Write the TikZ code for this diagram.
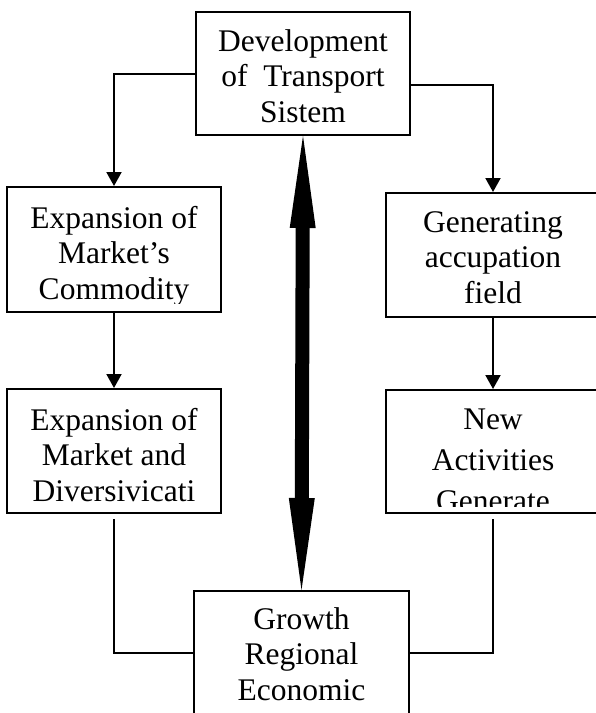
\documentclass[tikz,border=0pt]{standalone}
\usepackage{fontspec}
\setmainfont{Liberation Serif}
\usetikzlibrary{arrows.meta,positioning}

\begin{document}
\begin{tikzpicture}[x=1pt, y=-1pt,
    box/.style={rectangle, draw, line width=2pt, minimum width=214pt, minimum height=#1, inner sep=0pt},
    txt/.style={font=\fontsize{31.5}{35.5}\selectfont, align=center, inner sep=0pt},
    arr/.style={-{Triangle[length=14pt, width=15pt]}, line width=2pt},
    lnk/.style={line width=2pt},
    big/.style={{Triangle[length=92pt, width=26pt, line width=0pt]}-{Triangle[length=92pt, width=26pt, line width=0pt]}, line width=14pt}
]
\useasboundingbox (0,0) rectangle (596,713);
% boxes
\node[box=123pt] (dev) at (303,73.5) {};
\node[box=125pt] (mkt) at (114,249.5) {};
\node[box=124pt] (div) at (114,451) {};
\node[box=124pt] (occ) at (493,255) {};
\node[box=123pt] (act) at (493,451.5) {};
\node[box=124pt, minimum width=215pt] (grw) at (301.5,653) {};
% texts
\node[txt, below=15pt of dev.north] (dev-t) {\strut Development\\\strut of\ \ Transport\\\strut Sistem};
\begin{scope}
  \clip (mkt.north west) rectangle ([yshift=10pt]mkt.south east);
  \node[txt, below=17pt of mkt.north] (mkt-t) {\strut Expansion of\\\strut Market’s\\\strut Commodity};
\end{scope}
\node[txt, below=17pt of div.north] (div-t) {\strut Expansion of\\\strut Market and\\\strut Diversivicati};
\node[txt, below=15pt of occ.north] (occ-t) {\strut Generating\\\strut accupation\\\strut field};
\begin{scope}
  \clip (act.north west) rectangle ([yshift=8pt]act.south east);
  \node[txt, font=\fontsize{31.5}{41}\selectfont, below=12pt of act.north] (act-t) {\strut New\\\strut Activities\\\strut Generate};
\end{scope}
\node[txt, below=14pt of grw.north] (grw-t) {\strut Growth\\\strut Regional\\\strut Economic};
% connectors
\draw[arr] (dev.west) -| (mkt.north);
\draw[arr] ([yshift=-11pt]dev.east) -| (occ.north);
\draw[arr] (mkt.south) -- (div.north);
\draw[arr] (occ.south) -- (act.north);
\draw[lnk] ([yshift=-5pt]div.south) |- (grw.west);
\draw[lnk] ([yshift=-5pt]act.south) |- (grw.east);
\draw[big] (dev.south) -- (grw.north);
\end{tikzpicture}
\end{document}
